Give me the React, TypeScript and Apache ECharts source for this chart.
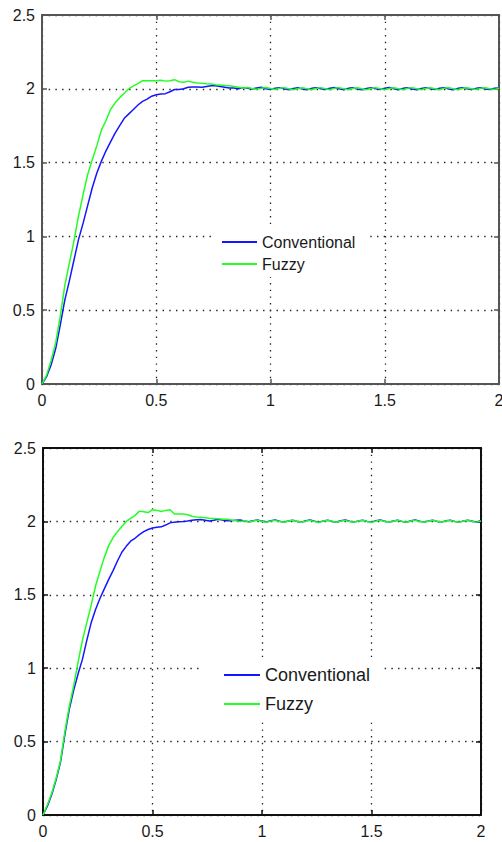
import React, { useEffect, useRef } from "react";
import * as echarts from "echarts";

// Sampling grid for the time axis (seconds)
const SAMPLE_STEP = 0.02;
const SAMPLE_COUNT = 101;
const TIME = Array.from({ length: SAMPLE_COUNT }, (_, i) => +(i * SAMPLE_STEP).toFixed(2));

const SERIES_NAMES = ["Conventional", "Fuzzy"];
const X_TICKS = [0, 0.5, 1, 1.5, 2];
const Y_TICKS = [0, 0.5, 1, 1.5, 2, 2.5];

// Upper plot: step responses
const TOP_CONV = [
  0, 0.05, 0.13, 0.24, 0.4, 0.57, 0.7, 0.84, 0.98, 1.09,
  1.21, 1.33, 1.43, 1.51, 1.58, 1.64, 1.7, 1.75, 1.8, 1.83,
  1.86, 1.89, 1.915, 1.93, 1.95, 1.96, 1.965, 1.967, 1.98, 1.995,
  1.995, 2.0, 2.01, 2.012, 2.012, 2.01, 2.015, 2.02, 2.02, 2.015,
  2.01, 2.005, 2.005, 2.0, 2.008, 2.003, 1.998, 2.006, 2.01, 2.0,
  1.996, 2.004, 2.008, 2.0, 1.994, 2.002, 2.007, 1.999, 1.993, 2.003,
  2.008, 2.0, 1.995, 2.004, 2.009, 2.0, 1.994, 2.003, 2.007, 1.998,
  1.993, 2.002, 2.008, 2.001, 1.995, 2.004, 2.009, 2.0, 1.994, 2.003,
  2.007, 1.999, 1.994, 2.002, 2.008, 2.0, 1.995, 2.004, 2.008, 1.999,
  1.994, 2.003, 2.008, 2.0, 1.995, 2.003, 2.007, 1.999, 1.995, 2.004, 2.006,
];
const TOP_FUZZY = [
  0, 0.06, 0.16, 0.28, 0.46, 0.67, 0.82, 0.97, 1.14, 1.285,
  1.42, 1.52, 1.615, 1.72, 1.785, 1.86, 1.905, 1.94, 1.97, 2.0,
  2.02, 2.035, 2.055, 2.055, 2.055, 2.055, 2.058, 2.052, 2.055, 2.062,
  2.048, 2.045, 2.052, 2.045, 2.04, 2.038, 2.035, 2.033, 2.028, 2.025,
  2.022, 2.02, 2.016, 2.01, 2.005, 2.009, 2.002, 1.996, 2.004, 2.009,
  2.002, 1.995, 2.003, 2.008, 2.0, 1.993, 2.001, 2.007, 2.001, 1.994,
  2.002, 2.008, 2.0, 1.994, 2.003, 2.008, 2.0, 1.993, 2.002, 2.007,
  2.0, 1.994, 2.002, 2.008, 2.001, 1.993, 2.002, 2.007, 2.0, 1.994,
  2.003, 2.008, 2.0, 1.994, 2.002, 2.007, 2.001, 1.993, 2.003, 2.008,
  2.0, 1.994, 2.002, 2.007, 2.0, 1.995, 2.003, 2.007, 2.0, 1.996, 2.004,
];

// Lower plot: step responses
const BOT_CONV = [
  0, 0.06, 0.14, 0.24, 0.36, 0.55, 0.72, 0.85, 0.96, 1.06,
  1.19, 1.31, 1.4, 1.475, 1.54, 1.605, 1.665, 1.73, 1.79, 1.83,
  1.865, 1.885, 1.91, 1.93, 1.945, 1.955, 1.96, 1.963, 1.975, 1.99,
  1.995, 1.998, 2.0, 2.003, 2.008, 2.012, 2.013, 2.008, 2.003, 2.008,
  2.015, 2.01, 2.005, 2.005, 2.008, 2.01, 2.003, 1.997, 2.005, 2.009,
  2.002, 1.996, 2.004, 2.009, 2.001, 1.995, 2.003, 2.008, 2.0, 1.995,
  2.004, 2.009, 2.001, 1.995, 2.003, 2.008, 2.0, 1.994, 2.004, 2.009,
  2.001, 1.995, 2.003, 2.008, 2.0, 1.995, 2.004, 2.009, 2.001, 1.995,
  2.003, 2.008, 2.0, 1.994, 2.004, 2.009, 2.001, 1.995, 2.003, 2.008,
  2.0, 1.995, 2.004, 2.008, 2.0, 1.995, 2.003, 2.008, 2.001, 1.996, 2.004,
];
const BOT_FUZZY = [
  0, 0.07, 0.15, 0.25, 0.37, 0.57, 0.74, 0.88, 1.04, 1.19,
  1.31, 1.43, 1.56, 1.66, 1.755, 1.835, 1.89, 1.93, 1.965, 2.0,
  2.02, 2.04, 2.07, 2.065, 2.06, 2.08, 2.075, 2.068, 2.075, 2.08,
  2.05, 2.05, 2.05, 2.045, 2.035, 2.03, 2.028, 2.025, 2.022, 2.02,
  2.018, 2.015, 2.015, 2.01, 2.005, 2.0, 2.005, 1.995, 2.003, 2.008,
  2.0, 1.994, 2.002, 2.007, 2.0, 1.994, 2.003, 2.008, 2.001, 1.994,
  2.002, 2.007, 2.0, 1.993, 2.002, 2.008, 2.001, 1.994, 2.002, 2.007,
  2.0, 1.994, 2.003, 2.008, 2.0, 1.993, 2.002, 2.007, 2.001, 1.994,
  2.002, 2.008, 2.0, 1.994, 2.003, 2.007, 2.0, 1.994, 2.002, 2.008,
  2.001, 1.994, 2.003, 2.007, 2.0, 1.994, 2.002, 2.008, 2.0, 1.995, 2.003,
];

const COLORS = ["#1515ff", "#22ff22"];
const FONT = "'Liberation Sans', Arial, sans-serif";
const TEXT_COLOR = "#1a1a1a";

const pairs = (values: number[]) => TIME.map((t, i) => [t, values[i]]);

function axesFor(gridIndex: number, axisColor: string) {
  const xMin = X_TICKS[0];
  const xMax = X_TICKS[X_TICKS.length - 1];
  const yMin = Y_TICKS[0];
  const yMax = Y_TICKS[Y_TICKS.length - 1];
  const line = { show: true, onZero: false, lineStyle: { color: axisColor, width: 2 } };
  const tick = { show: true, inside: true, length: 5, lineStyle: { color: axisColor, width: 1.5 } };
  const grid = { show: true, lineStyle: { color: "#222", width: 1.3, type: [1.4, 5.3] } };
  const label = { show: true, color: TEXT_COLOR, fontFamily: FONT, fontSize: 16 };
  const xAxes = [
    {
      type: "value", gridIndex, position: "bottom", min: xMin, max: xMax, interval: 0.5,
      axisLine: line, axisTick: tick, splitLine: grid,
      axisLabel: { ...label, margin: 8, formatter: (v: number) => String(v) },
    },
    {
      type: "value", gridIndex, position: "top", min: xMin, max: xMax, interval: 0.5,
      axisLine: line, axisTick: tick, splitLine: { show: false }, axisLabel: { show: false },
    },
  ];
  const yAxes = [
    {
      type: "value", gridIndex, position: "left", min: yMin, max: yMax, interval: 0.5,
      axisLine: line, axisTick: tick, splitLine: grid,
      axisLabel: { ...label, margin: 7, formatter: (v: number) => String(v) },
    },
    {
      type: "value", gridIndex, position: "right", min: yMin, max: yMax, interval: 0.5,
      axisLine: line, axisTick: tick, splitLine: { show: false }, axisLabel: { show: false },
    },
  ];
  return { xAxes, yAxes };
}

function seriesFor(axisIndex: number, conv: number[], fuzzy: number[]) {
  return [conv, fuzzy].map((vals, k) => ({
    type: "line",
    name: SERIES_NAMES[k],
    xAxisIndex: axisIndex,
    yAxisIndex: axisIndex,
    data: pairs(vals),
    showSymbol: false,
    symbol: "none",
    color: COLORS[k],
    lineStyle: { color: COLORS[k], width: 1.5 },
    z: 3 + k,
  }));
}

export default function App() {
  const ref = useRef<HTMLDivElement>(null);

  useEffect(() => {
    if (!ref.current) return;
    const chart = echarts.init(ref.current, undefined, { renderer: "svg" });

    const top = axesFor(0, "#555");
    const bottom = axesFor(1, "#111");

    chart.setOption({
      animation: false,
      backgroundColor: "#ffffff",
      grid: [
        { left: 42, top: 15, width: 457, height: 369, containLabel: false, outerBoundsMode: "none" },
        { left: 43, top: 448, width: 438, height: 367, containLabel: false, outerBoundsMode: "none" },
      ],
      xAxis: [...top.xAxes, ...bottom.xAxes],
      yAxis: [...top.yAxes, ...bottom.yAxes],
      legend: [
        {
          data: SERIES_NAMES,
          orient: "vertical",
          left: 215,
          top: 226,
          padding: [6, 10, 3, 7],
          backgroundColor: "#ffffff",
          itemWidth: 35,
          itemHeight: 2,
          itemGap: 2,
          icon: "rect",
          selectedMode: false,
          textStyle: { color: TEXT_COLOR, fontFamily: FONT, fontSize: 16, lineHeight: 20 },
        },
        {
          data: SERIES_NAMES,
          orient: "vertical",
          left: 202,
          top: 660,
          padding: [4, 13, 5, 22],
          backgroundColor: "#ffffff",
          itemWidth: 36,
          itemHeight: 2,
          itemGap: 7,
          icon: "rect",
          selectedMode: false,
          textStyle: { color: TEXT_COLOR, fontFamily: FONT, fontSize: 18, lineHeight: 22 },
        },
      ],
      series: [...seriesFor(0, TOP_CONV, TOP_FUZZY), ...seriesFor(2, BOT_CONV, BOT_FUZZY)],
    });

    return () => chart.dispose();
  }, []);

  return (
    <div
      ref={ref}
      style={{ position: "fixed", left: 0, top: 0, width: 502, height: 842, background: "#fff" }}
    />
  );
}
